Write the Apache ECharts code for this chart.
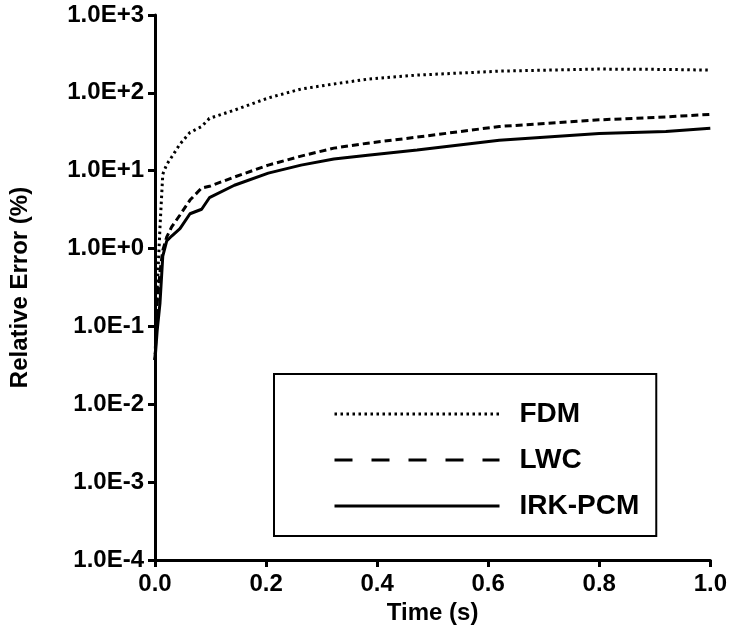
<!DOCTYPE html>
<html>
<head>
<meta charset="utf-8">
<script src="https://cdn.jsdelivr.net/npm/echarts@6/dist/echarts.min.js"></script>
<style>
  html, body { margin: 0; padding: 0; background: #fff; }
  #chart { width: 730px; height: 634px; }
</style>
</head>
<body>
<div id="chart"></div>
<script>
// time points (s)
var times = [0, 0.004, 0.009, 0.014, 0.021, 0.03, 0.045, 0.063, 0.084, 0.098,
             0.143, 0.204, 0.263, 0.322, 0.383, 0.472, 0.62, 0.80, 0.92, 1.0];
// relative error (%)
var fdm = [0.037, 0.3, 1.9, 9, 12, 15, 22, 31, 37, 47,
           60, 86, 112, 130, 150, 169, 190, 202, 200, 196];
var lwc = [0.037, 0.2, 0.5, 0.95, 1.4, 1.9, 2.7, 4.2, 6.0, 6.3,
           8.3, 11.8, 15.4, 19.5, 22.6, 27, 37, 45, 49, 53];
var irk = [0.037, 0.09, 0.2, 0.8, 1.25, 1.45, 1.8, 2.8, 3.2, 4.5,
           6.5, 9.3, 11.8, 14.1, 15.8, 18.4, 24.7, 30, 32, 35];
var seriesNames = ['FDM', 'LWC', 'IRK-PCM'];

function pairs(ys) {
  var out = [];
  for (var i = 0; i < times.length; i++) {
    out.push([times[i], ys[i]]);
  }
  return out;
}

var font = "'Liberation Sans', Arial, sans-serif";
var chart = echarts.init(document.getElementById('chart'));
chart.setOption({
  animation: false,
  backgroundColor: '#fff',
  grid: { left: 153, right: 18, top: 15, bottom: 74 },
  xAxis: {
    type: 'value',
    min: 0, max: 1, interval: 0.2,
    name: 'Time (s)',
    nameLocation: 'middle',
    nameGap: 40,
    nameTextStyle: { fontFamily: font, fontWeight: 'bold', fontSize: 24, color: '#000' },
    axisLine: { onZero: false, lineStyle: { color: '#000', width: 3 } },
    axisTick: { show: true, length: 7, lineStyle: { color: '#000', width: 3 } },
    axisLabel: {
      margin: 12, fontFamily: font, fontWeight: 'bold', fontSize: 24, color: '#000',
      formatter: function (v) { return v.toFixed(1); }
    },
    splitLine: { show: false }
  },
  yAxis: {
    type: 'log',
    logBase: 10,
    min: 1e-4, max: 1e3,
    name: 'Relative Error (%)',
    nameLocation: 'middle',
    nameGap: 123,
    nameTextStyle: { fontFamily: font, fontWeight: 'bold', fontSize: 24, color: '#000' },
    axisLine: { show: true, lineStyle: { color: '#000', width: 3 } },
    axisTick: { show: true, length: 7, lineStyle: { color: '#000', width: 3 } },
    axisLabel: {
      margin: 11, fontFamily: font, fontWeight: 'bold', fontSize: 24, color: '#000',
      formatter: function (v) { return v.toExponential(1).toUpperCase(); }
    },
    splitLine: { show: false }
  },
  legend: {
    left: 274, top: 374,
    orient: 'vertical',
    padding: [26, 17, 16, 59],
    itemGap: 18,
    itemWidth: 165,
    itemHeight: 14,
    borderColor: '#000',
    borderWidth: 2,
    itemStyle: { opacity: 0 },
    textStyle: { fontFamily: font, fontWeight: 'bold', fontSize: 28, color: '#000', padding: [0, 0, 0, 15] },
    data: [
      { name: seriesNames[0], lineStyle: { type: [2.5, 3.5], width: 3 } },
      { name: seriesNames[1], lineStyle: { type: [18, 19], width: 3 } },
      { name: seriesNames[2], lineStyle: { type: 'solid', width: 3 } }
    ]
  },
  series: [
    {
      name: seriesNames[0], type: 'line', data: pairs(fdm), symbol: 'none',
      lineStyle: { color: '#000', width: 3, type: [2.5, 3.5] }, itemStyle: { color: '#000' }
    },
    {
      name: seriesNames[1], type: 'line', data: pairs(lwc), symbol: 'none',
      lineStyle: { color: '#000', width: 3, type: [7, 4] }, itemStyle: { color: '#000' }
    },
    {
      name: seriesNames[2], type: 'line', data: pairs(irk), symbol: 'none',
      lineStyle: { color: '#000', width: 3, type: 'solid' }, itemStyle: { color: '#000' }
    }
  ]
});
</script>
</body>
</html>
